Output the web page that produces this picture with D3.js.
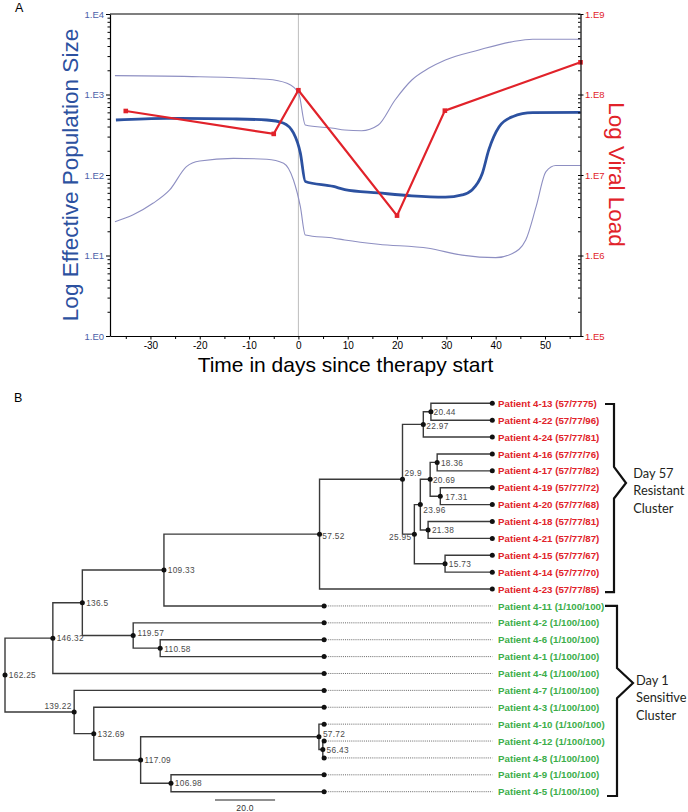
<!DOCTYPE html>
<html><head><meta charset="utf-8">
<script src="https://cdn.jsdelivr.net/npm/d3@7"></script>
<style>
body{margin:0;background:#fff;}
svg{display:block;font-family:"Liberation Sans",Arial,sans-serif;}
</style>
</head><body>
<svg id="chart" width="688" height="812"></svg>
<script>
// ---------------- Panel A data ----------------
const medianDays = [-37.0, -26.8, -13.3, -6.4, -3.1, -1.0, 0.4, 1.4, 7.1, 9.4, 16.2, 23.0, 29.8, 33.2, 35.2, 37.3, 38.6, 40.7, 43.4, 47.5, 57.2];
const medianNe   = [482, 506, 497, 482, 443, 333, 187, 83, 72, 66, 60, 55, 53, 56.5, 65, 105, 205, 398, 530, 594, 601];
const upperDays  = [-37.2, -20.0, -6.4, -2.3, 0.06, 1.4, 7.1, 9.4, 12.8, 16.2, 19.6, 23.0, 26.4, 29.8, 36.6, 43.4, 47.5, 57.2];
const upperNe    = [1714, 1663, 1545, 1377, 1035, 418, 380, 362, 355, 418, 855, 1514, 2113, 2685, 3573, 4529, 4853, 4853];
const lowerDays  = [-37.2, -33.6, -29.5, -26.1, -22.7, -20.0, -13.2, -6.4, -3.0, -1.0, 0.4, 1.4, 7.2, 9.4, 16.2, 26.4, 33.2, 40.0, 43.4, 46.1, 48.2, 50.2, 52.2, 57.2];
const lowerNe    = [26.3, 31.8, 44.5, 65.2, 127, 149, 161, 157, 140, 86.7, 40.4, 18.0, 16.4, 15.6, 13.8, 12.3, 10.1, 9.4, 10.6, 15.6, 40.4, 110, 131, 131];
const viralDays  = [-35, -5, 0, 20, 29.7, 57.2];
const viralLoad  = [6.24e7, 3.24e7, 1.13e8, 3.13e6, 6.3e7, 2.51e8];
const xTickValues = [-30, -20, -10, 0, 10, 20, 30, 40, 50];
const leftTickValues = [1, 10, 100, 1000, 10000];
const leftTickLabels = ["1.E0", "1.E1", "1.E2", "1.E3", "1.E4"];
const rightTickValues = [1e5, 1e6, 1e7, 1e8, 1e9];
const rightTickLabels = ["1.E5", "1.E6", "1.E7", "1.E8", "1.E9"];

// ---------------- Panel B data ----------------
const nodeIds     = ["root","A","B","C","D","E","F","G","H","I","J","K","L","M","N","O","P","Q","R","S","T","U","V"];
const nodeParents = [null,"root","A","B","C","D","E","F","E","H","I","J","J","I","H","B","O","root","Q","R","S","T","S"];
const nodeHeights = [162.25,146.32,136.5,109.33,57.52,29.9,22.97,20.44,25.95,23.96,20.69,18.36,17.31,21.38,15.73,119.57,110.58,139.22,132.69,117.09,57.72,56.43,106.98];
const leafNames = [
  "Patient 4-13 (57/7775)","Patient 4-22 (57/77/96)","Patient 4-24 (57/77/81)",
  "Patient 4-16 (57/77/76)","Patient 4-17 (57/77/82)","Patient 4-19 (57/77/72)",
  "Patient 4-20 (57/77/68)","Patient 4-18 (57/77/81)","Patient 4-21 (57/77/87)",
  "Patient 4-15 (57/77/67)","Patient 4-14 (57/77/70)","Patient 4-23 (57/77/85)",
  "Patient 4-11 (1/100/100)","Patient 4-2 (1/100/100)","Patient 4-6 (1/100/100)",
  "Patient 4-1 (1/100/100)","Patient 4-4 (1/100/100)","Patient 4-7 (1/100/100)",
  "Patient 4-3 (1/100/100)","Patient 4-10 (1/100/100)","Patient 4-12 (1/100/100)",
  "Patient 4-8 (1/100/100)","Patient 4-9 (1/100/100)","Patient 4-5 (1/100/100)"];
const leafParents = ["G","G","F","K","K","L","L","M","M","N","N","D","C","O","P","P","A","Q","R","T","U","U","V","V"];
const leafHeights = [0,0,0,0,0,0,0,0,0,0,0,0,56,56,56,56,56,56,56,56,56,56,56,56];
const leafGroups  = ["R","R","R","R","R","R","R","R","R","R","R","R","S","S","S","S","S","S","S","S","S","S","S","S"];
const clusterLabels = [["Day 57","Resistant","Cluster"],["Day 1","Sensitive","Cluster"]];
const scaleBarValue = 20;

// ---------------- drawing ----------------
const svg = d3.select("#chart");
const BLUE = "#2c51a0", HPD = "#8e8fc2", RED = "#e1222a", GREEN = "#3cae4a";

// Panel A
const x = d3.scaleLinear().domain([-38.2, 57.2]).range([110, 580.5]);
const yL = d3.scaleLog().domain([1, 1e4]).range([336, 14]);
const yR = d3.scaleLog().domain([1e5, 1e9]).range([336, 14]);

svg.append("text").attr("x", 15).attr("y", 12).attr("font-size", 12.5).text("A");

const gA = svg.append("g");
gA.append("line").attr("x1", x(0)).attr("x2", x(0)).attr("y1", 14).attr("y2", 336)
  .attr("stroke", "#bdbdbd").attr("stroke-width", 1);

const neLine = d3.line().x(d => x(d[0])).y(d => yL(d[1])).curve(d3.curveMonotoneX);
gA.append("path").attr("d", neLine(d3.zip(upperDays, upperNe))).attr("fill", "none").attr("stroke", HPD).attr("stroke-width", 1.1);
gA.append("path").attr("d", neLine(d3.zip(lowerDays, lowerNe))).attr("fill", "none").attr("stroke", HPD).attr("stroke-width", 1.1);
gA.append("path").attr("d", neLine(d3.zip(medianDays, medianNe))).attr("fill", "none").attr("stroke", BLUE).attr("stroke-width", 2.8);

const vl = d3.zip(viralDays, viralLoad);
gA.append("path").attr("d", d3.line().x(d => x(d[0])).y(d => yR(d[1]))(vl))
  .attr("fill", "none").attr("stroke", RED).attr("stroke-width", 2.2);
gA.selectAll("rect.vm").data(vl).join("rect").attr("class", "vm")
  .attr("x", d => x(d[0]) - 2.3).attr("y", d => yR(d[1]) - 2.3).attr("width", 4.6).attr("height", 4.6)
  .attr("fill", RED);

function minorLog(lo, hi) {
  const out = [];
  for (let k = lo; k < hi; k++) for (let m = 2; m <= 9; m++) out.push(m * Math.pow(10, k));
  return out;
}
function styleAxis(g, color) {
  g.selectAll("path.domain").attr("stroke", "#000").attr("stroke-width", 1.2);
  g.selectAll(".tick line").attr("stroke", "#000");
  g.selectAll(".tick text").attr("fill", color).attr("font-family", "Liberation Sans, Arial, sans-serif");
}
const gL = gA.append("g").attr("transform", "translate(110,0)")
  .call(d3.axisLeft(yL).tickValues(leftTickValues).tickFormat((d, i) => leftTickLabels[i]).tickSize(4).tickSizeOuter(0).tickPadding(2));
styleAxis(gL, "#4b5ea8");
gL.selectAll(".tick text").attr("font-size", 9.5);
const gLm = gA.append("g").attr("transform", "translate(110,0)")
  .call(d3.axisLeft(yL).tickValues(minorLog(0, 4)).tickFormat("").tickSize(2.5).tickSizeOuter(0));
gLm.select("path.domain").remove();
gLm.selectAll(".tick line").attr("stroke", "#000");

const gR = gA.append("g").attr("transform", "translate(580.5,0)")
  .call(d3.axisRight(yR).tickValues(rightTickValues).tickFormat((d, i) => rightTickLabels[i]).tickSize(3).tickSizeOuter(0).tickPadding(1.5));
styleAxis(gR, RED);
gR.selectAll(".tick text").attr("font-size", 9.5);
const gRm = gA.append("g").attr("transform", "translate(580.5,0)")
  .call(d3.axisLeft(yR).tickValues(minorLog(5, 9).concat(rightTickValues)).tickFormat("").tickSize(2.5).tickSizeOuter(0));
gRm.select("path.domain").remove();
gRm.selectAll(".tick line").attr("stroke", "#000");

const gX = gA.append("g").attr("transform", "translate(0,336)")
  .call(d3.axisBottom(x).tickValues(xTickValues).tickFormat(d => String(d)).tickSize(3.5).tickSizeOuter(0).tickPadding(2));
styleAxis(gX, "#000");
gX.selectAll(".tick text").attr("font-size", 10);
const gXm = gA.append("g").attr("transform", "translate(0,336)")
  .call(d3.axisBottom(x).tickValues(d3.range(-35, 57, 10)).tickFormat("").tickSize(3).tickSizeOuter(0));
gXm.select("path.domain").remove();
gXm.selectAll(".tick line").attr("stroke", "#000");

gA.append("line").attr("x1", 110).attr("x2", 580.5).attr("y1", 14).attr("y2", 14).attr("stroke", "#000").attr("stroke-width", 1.2);

gA.append("text").attr("transform", "translate(78,175) rotate(-90)").attr("text-anchor", "middle")
  .attr("font-size", 22.5).attr("fill", BLUE).text("Log Effective Population Size");
gA.append("text").attr("transform", "translate(609,174.5) rotate(90)").attr("text-anchor", "middle")
  .attr("font-size", 22.5).attr("fill", RED).text("Log Viral Load");
gA.append("text").attr("x", 345.5).attr("y", 371.5).attr("text-anchor", "middle")
  .attr("font-size", 21).attr("fill", "#000").text("Time in days since therapy start");

// Panel B
svg.append("text").attr("x", 14).attr("y", 402).attr("font-size", 12.5).text("B");

const rows = nodeIds.map((id, i) => ({id, parent: nodeParents[i], height: nodeHeights[i], leaf: false}))
  .concat(leafNames.map((id, i) => ({id, parent: leafParents[i], height: leafHeights[i], leaf: true, group: leafGroups[i]})));
const root = d3.stratify().id(d => d.id).parentId(d => d.parent)(rows);

const yLeaf = d3.scalePoint().domain(leafNames).range([403.3, 791.7]);
const xTree = d3.scaleLinear().domain([0, 162.25]).range([492.3, 5]);
root.eachAfter(n => {
  n.py = n.children ? d3.mean(n.children, c => c.py) : yLeaf(n.id);
  n.px = xTree(n.data.height);
});

const gB = svg.append("g");
gB.selectAll("path.br").data(root.descendants().filter(n => n.parent)).join("path").attr("class", "br")
  .attr("d", n => `M${n.parent.px},${n.parent.py}V${n.py}H${n.px}`)
  .attr("fill", "none").attr("stroke", "#3a3a3a").attr("stroke-width", 1.4);
const leaves = root.leaves();
gB.selectAll("line.ext").data(leaves.filter(n => n.data.height > 0)).join("line").attr("class", "ext")
  .attr("x1", n => n.px + 2).attr("x2", xTree(0)).attr("y1", n => n.py).attr("y2", n => n.py)
  .attr("stroke", "#555").attr("stroke-width", 0.9).attr("stroke-dasharray", "1,1.1");
gB.selectAll("circle.nd").data(root.descendants()).join("circle").attr("class", "nd")
  .attr("cx", n => n.px).attr("cy", n => n.py).attr("r", 2.5).attr("fill", "#111");
gB.selectAll("text.lf").data(leaves).join("text").attr("class", "lf")
  .attr("x", xTree(0) + 5.8).attr("y", n => n.py + 3.6)
  .attr("font-size", 9.7).attr("font-weight", "bold")
  .attr("fill", n => n.data.group === "R" ? RED : GREEN).text(n => n.id);
const labelOffset = {
  E: [2, -3.3, "start"], I: [3, 8.7, "start"], H: [-3, 5.7, "end"], O: [4.4, 0.4, "start"],
  Q: [-2.6, -2.8, "end"], T: [4, 0.3, "start"], F: [3, 5, "start"], D: [2.8, 4.8, "start"],
  L: [5, 3.5, "start"], P: [4, 3.8, "start"], G: [2.6, 3.4, "start"], J: [2.8, 3.7, "start"]
};
gB.selectAll("text.nl").data(root.descendants().filter(n => n.children)).join("text").attr("class", "nl")
  .each(function(n) {
    const o = labelOffset[n.id] || [3.8, 3.2, "start"];
    d3.select(this).attr("x", n.px + o[0]).attr("y", n.py + o[1]).attr("text-anchor", o[2]);
  })
  .attr("font-size", 8.3).attr("fill", "#4a4a4a").attr("letter-spacing", 0.3)
  .text(n => String(n.data.height));

const sbLen = xTree(0) - xTree(scaleBarValue);
gB.append("line").attr("x1", 215).attr("x2", 215 + sbLen).attr("y1", 800).attr("y2", 800)
  .attr("stroke", "#222").attr("stroke-width", 1.2);
gB.append("text").attr("x", 215 + sbLen / 2).attr("y", 810.5).attr("text-anchor", "middle")
  .attr("font-size", 8.5).attr("fill", "#333").attr("letter-spacing", 0.3).text(scaleBarValue.toFixed(1));

const redTop = yLeaf(leafNames[0]), redBot = yLeaf(leafNames[11]);
const grTop = yLeaf(leafNames[12]), grBot = yLeaf(leafNames[23]);
gB.append("path").attr("d", `M605,${redTop + 0.7}H614V467L626,483L614,498.5V${redBot + 3}H605`)
  .attr("fill", "none").attr("stroke", "#111").attr("stroke-width", 2.2);
gB.append("path").attr("d", `M605,${grTop}H617V668L633,683L617,698.3V${grBot + 4.3}H607`)
  .attr("fill", "none").attr("stroke", "#111").attr("stroke-width", 2.2);
const clusterText = [{x: 633.3, y: 478, lines: clusterLabels[0]}, {x: 636, y: 685, lines: clusterLabels[1]}];
clusterText.forEach(c => {
  gB.append("text").attr("font-family", "Lato, 'Liberation Sans', sans-serif").attr("font-size", 12.8).attr("fill", "#231f20")
    .selectAll("tspan").data(c.lines).join("tspan").attr("x", c.x).attr("y", (d, i) => c.y + i * 17.4).text(d => d);
});
</script>
</body></html>
